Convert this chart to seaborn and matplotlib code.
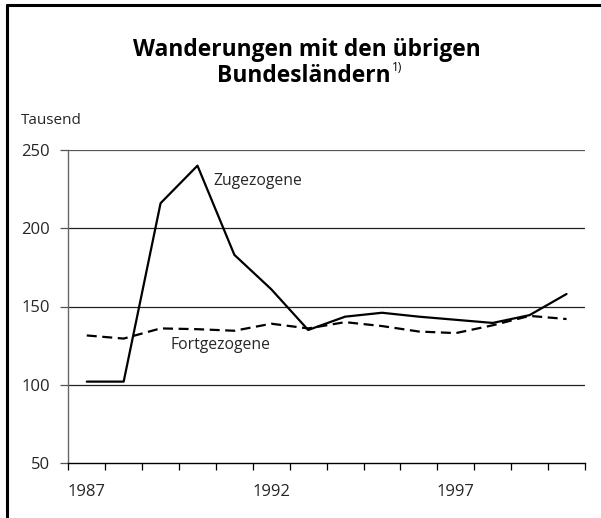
import matplotlib
matplotlib.use("Agg")
import matplotlib.pyplot as plt
import seaborn as sns
import pandas as pd
from matplotlib.lines import Line2D

years = list(range(1987, 2001))
zugezogene = [102, 102, 216, 240, 183, 161, 135, 143.5, 146, 143.5, 141.5, 139.5, 144.5, 158]
fortgezogene = [131.5, 129.5, 136, 135.5, 134.5, 139, 136, 140, 137.5, 134, 133, 138, 144, 142]
year_labels = ["1987", "1992", "1997"]
y_ticks = [50, 100, 150, 200, 250]

sns.set_theme(style="white")
plt.rcParams['font.family'] = ['Open Sans', 'DejaVu Sans']

df = pd.DataFrame({
    "Jahr": years * 2,
    "Wert": zugezogene + fortgezogene,
    "Reihe": ["Zugezogene"] * len(years) + ["Fortgezogene"] * len(years),
})

fig = plt.figure(figsize=(6.01, 5.18), dpi=100)
W, H = 601, 518
ax = fig.add_axes([68.3 / W, 1 - 463 / H, (585 - 68.3) / W, (463 - 150) / H])

sns.lineplot(data=df, x="Jahr", y="Wert", hue="Reihe", style="Reihe",
             palette={"Zugezogene": "black", "Fortgezogene": "black"},
             dashes={"Zugezogene": "", "Fortgezogene": (4.5, 2.5)},
             linewidth=1.6, legend=False, ax=ax)

ax.set_xlim(1986.5, 2000.5)
ax.set_ylim(50, 250)
ax.set_xlabel("")
ax.set_ylabel("")

for v in [100, 150, 200, 250]:
    ax.axhline(v, color="#222222" if v != 250 else "#555555", lw=0.9, zorder=0)

ax.set_yticks(y_ticks)
ax.set_yticklabels([str(v) for v in y_ticks], fontsize=12)
ax.set_xticks([1986.5 + k for k in range(15)])
ax.set_xticklabels([""] * 15)
ax.set_xticks([int(s) for s in year_labels], minor=True)
ax.set_xticklabels(year_labels, minor=True, fontsize=12)
ax.tick_params(axis="x", which="major", direction="out", length=5, width=0.9, color="black", bottom=True)
ax.tick_params(axis="x", which="minor", length=0, pad=15)
ax.tick_params(axis="y", direction="out", length=6, width=0.9, color="#555555", left=True, pad=7)

for s in ["top", "right"]:
    ax.spines[s].set_visible(False)
ax.spines["left"].set_color("#666666")
ax.spines["left"].set_linewidth(1.0)
ax.spines["bottom"].set_color("black")
ax.spines["bottom"].set_linewidth(1.0)

ax.text(1990.43, 230.4, "Zugezogene", fontsize=11.3, ha="left", va="center")
ax.text(1989.26, 125.5, "Fortgezogene", fontsize=11.3, ha="left", va="center")

fig.text(21 / W, 1 - 120 / H, "Tausend", fontsize=11, ha="left", va="center")
fig.text(307 / W, 1 - 49.5 / H, "Wanderungen mit den übrigen", fontsize=16.4,
         fontweight="bold", ha="center", va="center", color="black")
fig.text(391 / W, 1 - 76 / H, "Bundesländern", fontsize=16.4,
         fontweight="bold", ha="right", va="center", color="black")
fig.text(392 / W, 1 - 67.5 / H, "1)", fontsize=8.5, ha="left", va="center", color="black")

fig.add_artist(Line2D([6.7 / W, 6.7 / W], [0, 1 - 5 / H], transform=fig.transFigure, color="black", lw=2.2))
fig.add_artist(Line2D([6.7 / W, 1], [1 - 5 / H, 1 - 5 / H], transform=fig.transFigure, color="black", lw=2.2))

fig.savefig("out.png", dpi=100, facecolor="white")
